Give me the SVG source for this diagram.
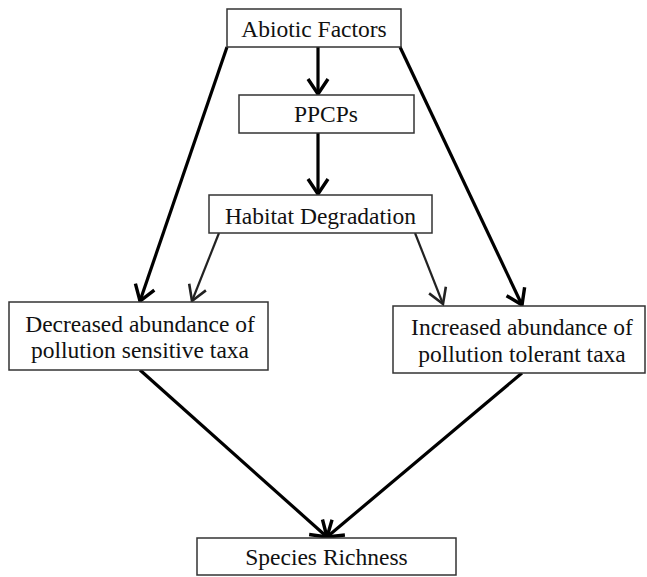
<svg xmlns="http://www.w3.org/2000/svg" width="647" height="577" viewBox="0 0 647 577">
<defs>
<style>
.box{fill:#fff;stroke:#333;stroke-width:1.5}
.t{font-family:"Liberation Serif","Times New Roman",serif;font-size:23.5px;fill:#111;text-anchor:middle}
.thick{stroke:#000;stroke-width:3.2;fill:none}
.thin{stroke:#222;stroke-width:2.2;fill:none}
</style>
<marker id="ah" markerUnits="userSpaceOnUse" viewBox="0 0 20 24" markerWidth="20" markerHeight="24" refX="17" refY="12" orient="auto">
<path d="M2,2 L17,12 L2,22" fill="none" stroke="#000" stroke-width="3.4" stroke-linejoin="miter"/>
</marker>
<marker id="ah2" markerUnits="userSpaceOnUse" viewBox="0 0 20 24" markerWidth="20" markerHeight="24" refX="17" refY="12" orient="auto">
<path d="M2,3 L17,12 L2,21" fill="none" stroke="#222" stroke-width="2.6" stroke-linejoin="miter"/>
</marker>
</defs>
<rect width="647" height="577" fill="#fff"/>
<g id="connectors">
<line class="thick" x1="318" y1="47" x2="318" y2="94" marker-end="url(#ah)"/>
<line class="thick" x1="318" y1="133" x2="318" y2="194" marker-end="url(#ah)"/>
<line class="thick" x1="227" y1="47" x2="140" y2="301" marker-end="url(#ah)"/>
<line class="thick" x1="400" y1="47" x2="522" y2="305" marker-end="url(#ah)"/>
<line class="thin" x1="219" y1="233" x2="192" y2="301" marker-end="url(#ah2)"/>
<line class="thin" x1="415" y1="233" x2="443" y2="304" marker-end="url(#ah2)"/>
<line class="thick" x1="140" y1="370" x2="327" y2="537" marker-end="url(#ah)"/>
<line class="thick" x1="522" y1="373" x2="327" y2="537" marker-end="url(#ah)"/>
</g>
<g id="abiotic">
<rect class="box" x="227" y="9" width="174" height="38"/>
<text class="t" x="314" y="37">Abiotic Factors</text>
</g>
<g id="ppcps">
<rect class="box" x="239" y="95" width="175" height="38"/>
<text class="t" x="326" y="122">PPCPs</text>
</g>
<g id="habitat">
<rect class="box" x="209" y="195" width="223" height="38"/>
<text class="t" x="320.5" y="224">Habitat Degradation</text>
</g>
<g id="decreased">
<rect class="box" x="9" y="302" width="259" height="68"/>
<text class="t" x="140" y="332">Decreased abundance of</text>
<text class="t" x="140" y="358">pollution sensitive taxa</text>
</g>
<g id="increased">
<rect class="box" x="393" y="306" width="252" height="67"/>
<text class="t" x="522" y="335">Increased abundance of</text>
<text class="t" x="522" y="362">pollution tolerant taxa</text>
</g>
<g id="species">
<rect class="box" x="197" y="538" width="259" height="37"/>
<text class="t" x="326.5" y="565">Species Richness</text>
</g>
</svg>
